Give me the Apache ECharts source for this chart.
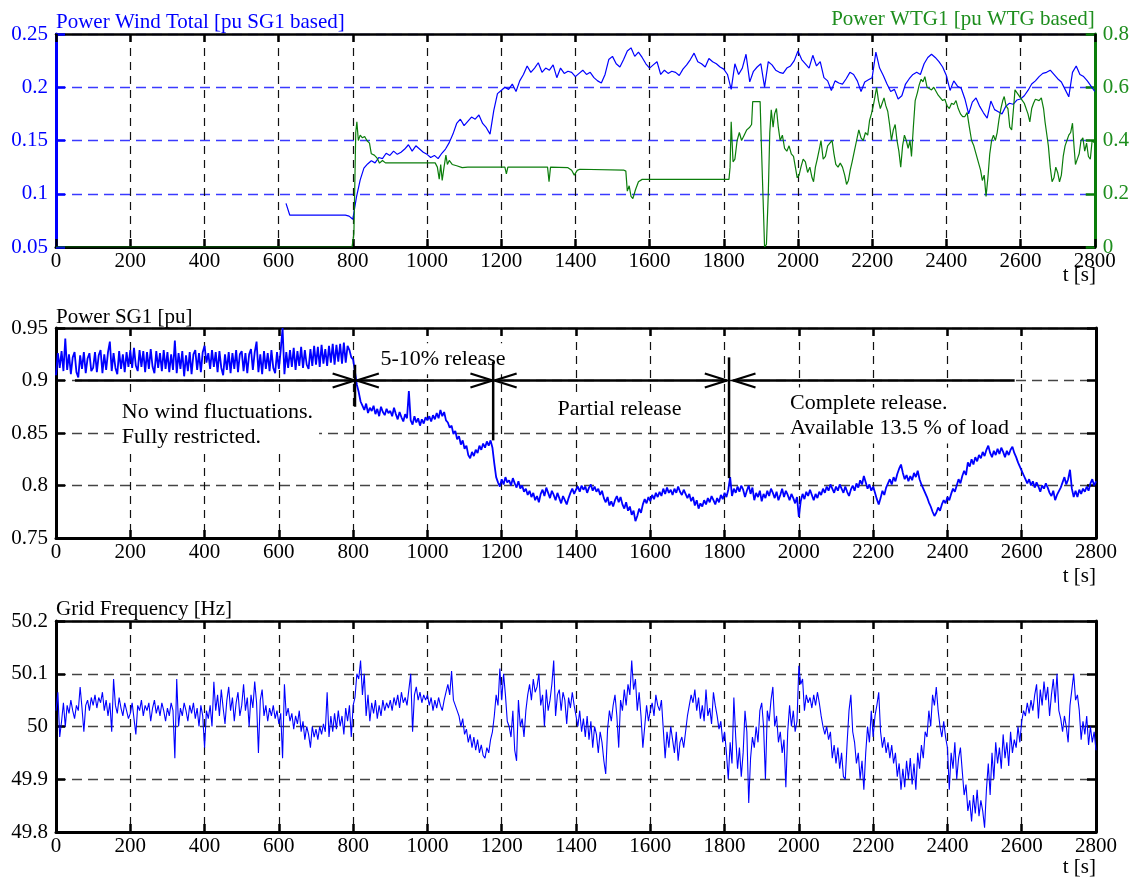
<!DOCTYPE html>
<html>
<head>
<meta charset="utf-8">
<title>Wind power release test</title>
<script src="https://cdn.jsdelivr.net/npm/echarts@6/dist/echarts.min.js"></script>
<style>
  html, body { margin: 0; padding: 0; background: #ffffff; }
  #chart { width: 1132px; height: 879px; }
</style>
</head>
<body>
<div id="chart"></div>
<script>
// ---------- data ----------
// Total wind power [pu SG1 based], sampled every 10 s from t = 620 s
const windTotalStart = 620;
const windTotalStep = 10;
const windTotal = [
  0.091, 0.080, 0.080, 0.080, 0.080, 0.080, 0.080, 0.080,
  0.080, 0.080, 0.080, 0.080, 0.080, 0.080, 0.080, 0.080, 0.080, 0.079,
  0.076, 0.097, 0.113, 0.124, 0.128, 0.131, 0.129, 0.134, 0.133, 0.138,
  0.136, 0.140, 0.137, 0.139, 0.142, 0.146, 0.140, 0.145, 0.142, 0.139,
  0.137, 0.134, 0.136, 0.133, 0.138, 0.142, 0.148, 0.156, 0.166, 0.170,
  0.164, 0.168, 0.172, 0.170, 0.174, 0.166, 0.162, 0.156, 0.178, 0.194,
  0.197, 0.200, 0.198, 0.203, 0.196, 0.206, 0.212, 0.220, 0.214, 0.218,
  0.223, 0.214, 0.218, 0.216, 0.221, 0.209, 0.218, 0.213, 0.215, 0.214,
  0.210, 0.213, 0.216, 0.212, 0.214, 0.209, 0.206, 0.204, 0.212, 0.226,
  0.229, 0.222, 0.219, 0.226, 0.234, 0.237, 0.229, 0.233, 0.228, 0.222,
  0.218, 0.221, 0.224, 0.212, 0.216, 0.213, 0.215, 0.214, 0.211, 0.217,
  0.221, 0.226, 0.232, 0.224, 0.222, 0.219, 0.227, 0.224, 0.222, 0.219,
  0.217, 0.212, 0.198, 0.222, 0.212, 0.218, 0.231, 0.205, 0.215, 0.219,
  0.222, 0.200, 0.224, 0.221, 0.216, 0.214, 0.213, 0.218, 0.220, 0.225,
  0.234, 0.226, 0.222, 0.218, 0.230, 0.220, 0.224, 0.209, 0.206, 0.197,
  0.206, 0.204, 0.203, 0.208, 0.214, 0.212, 0.206, 0.196, 0.205, 0.207,
  0.209, 0.233, 0.218, 0.211, 0.203, 0.196, 0.198, 0.189, 0.192, 0.203,
  0.208, 0.212, 0.214, 0.212, 0.222, 0.228, 0.231, 0.228, 0.224, 0.219,
  0.211, 0.197, 0.206, 0.201, 0.199, 0.189, 0.175, 0.186, 0.190, 0.182,
  0.176, 0.171, 0.187, 0.179, 0.177, 0.175, 0.182, 0.185, 0.184, 0.188,
  0.189, 0.192, 0.197, 0.203, 0.206, 0.210, 0.213, 0.214, 0.216, 0.212,
  0.208, 0.205, 0.198, 0.191, 0.214, 0.220, 0.212, 0.210, 0.206, 0.201,
  0.196
];

// Power of WTG1 [pu WTG based] as [t, value] pairs
const wtg1 = [
  [0,0],[798,0],[803,0.05],[808,0.43],[811,0.47],[815,0.40],[820,0.42],[826,0.41],[832,0.415],
  [838,0.40],[845,0.39],[850,0.35],[858,0.345],[865,0.335],[872,0.315],[880,0.325],[888,0.316],
  [1022,0.316],[1028,0.30],[1033,0.255],[1037,0.31],[1041,0.25],[1046,0.30],[1051,0.345],
  [1055,0.31],[1060,0.325],[1068,0.31],[1080,0.305],[1095,0.298],[1110,0.300],[1210,0.300],
  [1214,0.275],[1218,0.300],[1325,0.300],[1329,0.245],[1333,0.300],[1380,0.298],[1390,0.288],
  [1397,0.27],[1405,0.288],[1412,0.292],[1530,0.289],[1536,0.285],[1540,0.21],[1545,0.23],
  [1550,0.19],[1555,0.182],[1562,0.215],[1570,0.245],[1580,0.254],[1814,0.254],[1817,0.30],
  [1820,0.47],[1825,0.32],[1830,0.33],[1836,0.40],[1842,0.43],[1848,0.40],[1855,0.42],
  [1862,0.44],[1870,0.45],[1875,0.46],[1878,0.546],[1898,0.546],[1901,0.40],[1906,0.18],
  [1910,0.0],[1915,0.01],[1920,0.20],[1924,0.43],[1928,0.515],[1933,0.45],[1937,0.50],
  [1942,0.52],[1947,0.45],[1952,0.40],[1958,0.42],[1964,0.37],[1970,0.36],[1976,0.38],
  [1982,0.35],[1988,0.34],[1993,0.30],[1998,0.26],[2003,0.27],[2008,0.30],[2014,0.33],
  [2020,0.32],[2026,0.28],[2032,0.30],[2038,0.26],[2042,0.245],[2047,0.30],[2052,0.33],
  [2058,0.37],[2062,0.40],[2068,0.33],[2074,0.34],[2080,0.38],[2086,0.39],[2092,0.40],
  [2097,0.35],[2102,0.31],[2108,0.30],[2114,0.315],[2120,0.30],[2126,0.27],[2131,0.235],
  [2136,0.25],[2141,0.29],[2146,0.32],[2152,0.36],[2158,0.40],[2164,0.44],[2170,0.41],
  [2176,0.40],[2182,0.43],[2188,0.42],[2193,0.475],[2198,0.50],[2203,0.53],[2207,0.56],
  [2212,0.60],[2217,0.55],[2222,0.52],[2227,0.54],[2232,0.56],[2237,0.53],[2242,0.51],
  [2247,0.46],[2252,0.40],[2257,0.44],[2262,0.46],[2267,0.40],[2272,0.36],[2277,0.30],
  [2282,0.38],[2287,0.42],[2292,0.40],[2297,0.37],[2302,0.40],[2306,0.34],[2311,0.45],
  [2316,0.55],[2322,0.58],[2327,0.61],[2332,0.63],[2337,0.62],[2342,0.64],[2348,0.60],
  [2354,0.595],[2360,0.59],[2366,0.60],[2372,0.585],[2378,0.57],[2384,0.56],[2390,0.55],
  [2396,0.555],[2402,0.53],[2408,0.52],[2414,0.54],[2420,0.535],[2426,0.55],[2432,0.52],
  [2438,0.50],[2444,0.49],[2450,0.49],[2456,0.505],[2462,0.45],[2468,0.40],[2474,0.38],
  [2480,0.35],[2486,0.32],[2492,0.29],[2497,0.25],[2502,0.27],[2507,0.19],[2512,0.26],
  [2517,0.35],[2522,0.40],[2527,0.42],[2532,0.40],[2537,0.43],[2542,0.48],[2547,0.52],
  [2552,0.55],[2556,0.565],[2561,0.53],[2566,0.52],[2571,0.45],[2576,0.44],[2581,0.52],
  [2585,0.59],[2590,0.58],[2595,0.575],[2600,0.56],[2605,0.55],[2610,0.54],[2615,0.54],
  [2620,0.50],[2625,0.47],[2630,0.52],[2635,0.54],[2640,0.555],[2645,0.55],[2650,0.55],
  [2656,0.56],[2662,0.52],[2666,0.47],[2670,0.43],[2675,0.38],[2680,0.30],[2685,0.245],
  [2690,0.26],[2695,0.30],[2700,0.28],[2705,0.245],[2710,0.27],[2715,0.34],[2720,0.38],
  [2725,0.40],[2730,0.42],[2735,0.43],[2740,0.465],[2744,0.38],[2748,0.31],[2753,0.33],
  [2758,0.35],[2763,0.40],[2768,0.41],[2773,0.36],[2778,0.39],[2783,0.34],[2788,0.33],
  [2793,0.40],[2800,0.39]
];

// Power of SG1 [pu], sampled every 5 s from t = 0 (one row per 100 s)
const sg1Step = 5;
const sg1Power = [
  0.905,0.926,0.912,0.928,0.909,0.940,0.910,0.925,0.906,0.922,0.927,0.908,0.903,0.924,0.911,0.927,0.907,0.921,0.926,0.909,
  0.912,0.927,0.908,0.924,0.929,0.907,0.925,0.910,0.927,0.937,0.909,0.926,0.912,0.906,0.928,0.911,0.925,0.908,0.927,0.913,
  0.929,0.912,0.931,0.914,0.909,0.929,0.913,0.928,0.908,0.927,0.911,0.930,0.913,0.907,0.928,0.912,0.926,0.909,0.929,0.911,
  0.927,0.908,0.925,0.910,0.938,0.907,0.926,0.911,0.928,0.904,0.924,0.909,0.927,0.906,0.925,0.929,0.910,0.926,0.908,0.927,
  0.933,0.917,0.926,0.911,0.929,0.913,0.927,0.908,0.928,0.912,0.905,0.925,0.910,0.927,0.907,0.926,0.911,0.929,0.908,0.925,
  0.928,0.909,0.926,0.907,0.925,0.930,0.910,0.927,0.937,0.908,0.925,0.906,0.928,0.911,0.926,0.909,0.929,0.912,0.907,0.927,
  0.911,0.929,0.950,0.906,0.927,0.912,0.929,0.913,0.931,0.910,0.928,0.914,0.932,0.912,0.929,0.915,0.911,0.930,0.914,0.933,
  0.915,0.932,0.913,0.934,0.916,0.930,0.914,0.933,0.917,0.935,0.915,0.934,0.918,0.935,0.916,0.936,0.917,0.933,0.929,0.922,
  0.920,0.908,0.896,0.889,0.880,0.876,0.872,0.878,0.869,0.874,0.871,0.876,0.868,0.873,0.866,0.875,0.870,0.867,0.873,0.869,
  0.871,0.866,0.874,0.868,0.863,0.870,0.865,0.861,0.868,0.864,0.890,0.862,0.858,0.866,0.860,0.864,0.857,0.863,0.859,0.865,
  0.862,0.866,0.861,0.867,0.863,0.869,0.864,0.872,0.866,0.870,0.862,0.860,0.855,0.857,0.849,0.852,0.844,0.847,0.839,0.843,
  0.835,0.838,0.829,0.826,0.832,0.828,0.834,0.831,0.838,0.834,0.840,0.836,0.842,0.838,0.843,0.836,0.821,0.808,0.803,0.799,
  0.806,0.801,0.808,0.803,0.805,0.800,0.807,0.802,0.798,0.804,0.797,0.800,0.794,0.797,0.791,0.795,0.789,0.793,0.786,0.790,
  0.784,0.792,0.796,0.790,0.798,0.793,0.788,0.795,0.791,0.786,0.793,0.788,0.783,0.790,0.786,0.782,0.788,0.793,0.797,0.792,
  0.796,0.799,0.794,0.800,0.796,0.799,0.793,0.798,0.801,0.795,0.799,0.794,0.797,0.791,0.795,0.788,0.784,0.789,0.781,0.785,
  0.780,0.786,0.790,0.784,0.789,0.782,0.778,0.784,0.776,0.780,0.772,0.776,0.766,0.771,0.778,0.774,0.782,0.787,0.783,0.789,
  0.785,0.791,0.787,0.793,0.789,0.794,0.790,0.797,0.792,0.798,0.793,0.796,0.791,0.797,0.793,0.799,0.794,0.791,0.796,0.792,
  0.788,0.792,0.785,0.789,0.781,0.786,0.778,0.783,0.780,0.786,0.782,0.788,0.784,0.790,0.786,0.782,0.788,0.784,0.791,0.787,
  0.793,0.789,0.796,0.808,0.790,0.797,0.793,0.799,0.794,0.800,0.796,0.789,0.795,0.800,0.792,0.798,0.786,0.793,0.789,0.795,
  0.785,0.792,0.788,0.795,0.790,0.797,0.793,0.788,0.794,0.786,0.791,0.797,0.789,0.795,0.791,0.786,0.792,0.788,0.783,0.789,
  0.770,0.785,0.792,0.787,0.794,0.790,0.796,0.791,0.786,0.792,0.788,0.794,0.791,0.797,0.793,0.799,0.795,0.801,0.797,0.793,
  0.799,0.795,0.801,0.797,0.793,0.799,0.794,0.790,0.796,0.800,0.795,0.802,0.798,0.805,0.801,0.809,0.803,0.797,0.801,0.795,
  0.799,0.793,0.787,0.782,0.788,0.795,0.791,0.798,0.802,0.806,0.801,0.808,0.804,0.811,0.816,0.820,0.812,0.806,0.810,0.804,
  0.809,0.805,0.812,0.808,0.814,0.806,0.801,0.797,0.793,0.789,0.784,0.780,0.775,0.771,0.774,0.779,0.776,0.782,0.786,0.783,
  0.789,0.786,0.792,0.797,0.794,0.800,0.806,0.802,0.809,0.814,0.810,0.822,0.818,0.825,0.820,0.827,0.823,0.829,0.826,0.832,
  0.828,0.834,0.838,0.831,0.827,0.833,0.829,0.835,0.830,0.836,0.832,0.827,0.833,0.829,0.834,0.837,0.831,0.827,0.822,0.818,
  0.814,0.810,0.806,0.802,0.806,0.800,0.804,0.798,0.803,0.799,0.794,0.800,0.797,0.802,0.798,0.793,0.790,0.795,0.786,0.791,
  0.792,0.798,0.803,0.808,0.801,0.806,0.815,0.797,0.789,0.795,0.789,0.796,0.792,0.797,0.794,0.799,0.795,0.802,0.806,0.800,
  0.804
];

// Grid frequency [Hz], sampled every 5 s from t = 0 (one row per 100 s)
const freqStep = 5;
const gridFreq = [
  50.03,50.065,49.98,50.01,50.045,50.0,50.04,50.025,50.05,50.03,50.015,50.04,50.03,50.075,50.035,49.99,50.04,50.05,50.03,50.055,
  50.04,50.06,50.035,50.055,50.045,50.065,50.03,50.05,50.02,50.045,49.99,50.09,50.04,50.025,50.055,50.035,50.02,50.045,50.03,50.015,
  50.025,50.045,50.015,49.985,50.04,50.03,50.05,50.02,50.04,50.03,50.045,50.01,50.035,50.05,50.025,50.04,50.02,50.045,50.03,50.01,
  50.035,50.02,50.045,50.03,49.94,50.09,50.0,50.035,50.02,50.045,50.03,50.01,50.04,50.025,50.045,50.015,50.035,50.0,50.04,50.02,
  49.96,50.03,50.015,50.04,50.0,50.085,50.03,50.06,50.02,50.07,50.035,50.005,50.05,50.075,50.03,50.055,50.01,50.045,50.065,50.02,
  50.04,50.08,50.03,50.055,50.0,50.06,50.035,50.085,50.045,49.95,50.05,50.07,50.02,50.04,50.01,50.035,50.02,50.04,50.015,50.03,
  50.005,50.025,49.94,50.08,50.02,50.035,50.01,50.025,49.995,50.02,50.005,50.03,49.99,50.01,49.975,50.0,49.985,49.96,50.0,49.98,
  49.995,49.975,50.0,49.985,50.005,49.99,50.065,49.98,50.02,49.99,50.025,49.995,50.03,50.0,50.02,49.985,50.035,50.01,50.04,49.98,
  50.04,50.055,50.1,50.09,50.125,50.06,50.1,50.02,50.06,50.01,50.045,50.025,50.05,50.015,50.04,50.02,50.05,50.03,50.045,50.035,
  50.05,50.03,50.055,50.04,50.06,50.035,50.065,50.045,50.055,50.04,50.07,50.1,49.99,50.06,50.075,50.05,50.065,50.045,50.06,50.05,
  50.06,50.04,50.055,50.03,50.05,50.035,50.055,50.04,50.03,50.05,50.065,50.08,50.06,50.105,50.05,50.04,50.03,50.02,50.0,50.015,
  49.985,49.995,49.97,49.985,49.96,49.98,49.955,49.975,49.95,49.965,49.945,49.94,49.96,49.95,49.975,49.99,50.02,50.06,50.04,50.11,
  50.05,50.1,50.06,50.01,50.0,49.98,50.03,49.955,49.935,50.05,50.0,50.015,49.98,50.03,50.06,50.08,50.05,50.09,50.065,50.075,
  50.1,50.04,50.06,50.0,50.07,50.03,50.05,50.08,50.125,50.02,50.06,50.07,50.03,50.065,50.05,50.005,50.055,50.035,50.065,50.04,
  50.02,50.0,50.03,49.99,50.015,49.98,50.02,49.975,50.01,49.96,50.0,49.985,49.95,49.99,49.97,49.935,49.91,49.995,50.03,50.01,
  50.04,50.06,50.02,49.96,50.05,50.03,50.07,50.04,50.08,50.06,50.125,50.07,50.09,50.03,50.065,50.02,49.96,50.0,50.04,50.01,
  50.03,50.045,50.02,50.06,50.04,50.03,50.05,49.995,49.94,49.99,49.96,50.0,49.975,49.95,49.99,49.935,49.97,49.98,49.96,49.99,
  50.02,50.04,50.06,50.045,50.07,50.03,50.055,50.015,50.04,50.01,50.07,50.02,50.035,50.005,50.065,50.04,50.02,49.995,50.01,49.97,
  49.99,49.95,49.9,49.97,49.93,50.055,49.98,49.92,49.96,49.905,49.95,50.03,49.99,49.855,49.94,49.98,49.96,50.0,49.97,50.03,
  50.045,50.0,49.9,50.03,50.01,50.05,50.075,50.0,50.02,49.97,49.99,49.95,49.975,49.885,49.99,50.04,50.0,50.03,49.99,50.01,
  50.115,50.08,50.09,50.03,50.06,50.045,50.055,50.035,50.06,50.04,50.065,50.045,50.02,50.0,49.985,50.0,49.975,49.99,49.94,49.965,
  49.93,49.96,49.92,49.95,49.905,49.9,49.97,50.03,50.06,49.99,49.97,49.93,49.95,49.9,49.935,49.88,49.95,50.0,49.97,50.03,
  49.98,50.02,50.04,50.065,49.99,49.96,49.98,49.95,49.97,49.94,49.965,49.93,49.95,49.905,49.93,49.88,49.92,49.885,49.935,49.9,
  49.94,49.89,49.93,49.88,49.95,49.92,49.965,49.94,49.99,49.98,50.03,50.0,50.06,50.04,50.075,50.03,50.0,49.98,50.01,49.98,
  49.96,49.88,49.95,49.92,49.97,49.9,49.94,49.96,49.915,49.87,49.89,49.84,49.86,49.82,49.87,49.835,49.88,49.83,49.86,49.84,
  49.808,49.88,49.93,49.87,49.95,49.9,49.97,49.93,49.96,49.92,49.985,49.94,49.97,49.925,49.99,49.95,49.975,49.96,50.0,49.97,
  50.01,50.03,50.02,50.045,50.025,50.05,50.03,50.06,50.08,50.015,50.07,50.04,50.085,50.05,50.075,50.02,50.06,50.09,50.045,50.1,
  50.03,50.015,49.99,50.02,50.0,49.97,50.04,50.07,50.1,50.05,50.06,50.03,49.975,50.01,49.985,50.02,49.965,50.0,49.97,49.99,
  49.955
];

// Release phases drawn on the SG1 panel: [start t, end t, head at start, head at end]
const phaseLevel = 0.9;
const phaseSpans = [
  [51, 804, 0, 1],
  [810, 1175, 1, 1],
  [1181, 1806, 1, 1],
  [1824, 2581, 1, 0]
];
// Phase boundaries: [t, lower value, upper value]
const phaseMarkers = [
  [805, 0.875, 0.915],
  [1177, 0.843, 0.918],
  [1812, 0.807, 0.922]
];
// Phase notes: anchor [t, value] and alignment
const phaseNotes = [
  { text: 'No wind fluctuations.\nFully restricted.', t: 161, v: 0.858, align: 'left' },
  { text: '5-10% release', t: 1042, v: 0.9207, align: 'center' },
  { text: 'Partial release', t: 1517, v: 0.873, align: 'center' },
  { text: 'Complete release.\nAvailable 13.5 % of load', t: 1960, v: 0.8667, align: 'left' }
];

// ---------- styling ----------
const FONT = '"Liberation Serif", "Times New Roman", serif';
const BLUE = '#0000ff';
const GREEN_LINE = '#0b7d0b';
const GREEN_TEXT = '#1e8e1e';
const FS = 21;

const toPairs = (vals, start, step) => vals.map((v, i) => [start + i * step, v]);

const gridBoxes = [
  { left: 56, right: 36, top: 34, height: 213 },
  { left: 56, right: 36, top: 328, height: 210 },
  { left: 56, right: 36, top: 621, height: 211 }
];

function timeAxes(gridIndex) {
  const common = {
    type: 'value', gridIndex, min: 0, max: 2800, interval: 200,
    axisLine: { onZero: false, lineStyle: { color: '#000', width: 3 } },
    axisTick: { inside: true, length: 8, lineStyle: { color: '#000', width: 2.5 } }
  };
  return [
    Object.assign({}, common, {
      position: 'bottom',
      axisLabel: { color: '#000', fontFamily: FONT, fontSize: FS, margin: 4, formatter: v => String(v) },
      splitLine: { show: true, lineStyle: { color: '#111', width: 1.2, type: [8, 6] } }
    }),
    Object.assign({}, common, {
      position: 'top',
      axisLine: { onZero: false, lineStyle: { color: '#000', width: 2.5 } },
      axisLabel: { show: false },
      splitLine: { show: false }
    })
  ];
}

function valueAxis(gridIndex, min, max, interval, opts) {
  const color = opts.color || '#000';
  return {
    type: 'value', gridIndex, min, max, interval,
    position: opts.position || 'left',
    name: opts.name || '',
    nameLocation: 'end',
    nameGap: opts.nameGap == null ? 1 : opts.nameGap,
    nameTextStyle: {
      color: opts.nameColor || color, fontFamily: FONT, fontSize: FS,
      align: opts.position === 'right' ? 'right' : 'left',
      verticalAlign: 'bottom', padding: 0
    },
    axisLine: { show: true, onZero: false, lineStyle: { color: opts.lineColor || color, width: 3 } },
    axisTick: { show: true, inside: true, length: 9, lineStyle: { color: opts.lineColor || color, width: 2.5 } },
    axisLabel: {
      show: opts.labels !== false, color: opts.labelColor || color,
      fontFamily: FONT, fontSize: FS, margin: 8
    },
    splitLine: opts.split
      ? { show: true, lineStyle: { color: opts.split, width: 1.3, type: [10, 6] } }
      : { show: false }
  };
}

const xAxes = [].concat(timeAxes(0), timeAxes(1), timeAxes(2));
const yAxes = [
  valueAxis(0, 0.05, 0.25, 0.05, { color: BLUE, name: 'Power Wind Total [pu SG1 based]', split: '#3a3aff' }),
  valueAxis(0, 0, 0.8, 0.2, { position: 'right', color: GREEN_TEXT, lineColor: GREEN_LINE, name: 'Power WTG1 [pu WTG based]', nameGap: 4 }),
  valueAxis(1, 0.75, 0.95, 0.05, { name: 'Power SG1 [pu]', split: '#444', nameGap: 0 }),
  valueAxis(1, 0.75, 0.95, 0.05, { position: 'right', labels: false }),
  valueAxis(2, 49.8, 50.2, 0.1, { name: 'Grid Frequency [Hz]', split: '#444' }),
  valueAxis(2, 49.8, 50.2, 0.1, { position: 'right', labels: false })
];

const lineSeries = (data, xi, yi, color, width, z) => ({
  type: 'line', xAxisIndex: xi, yAxisIndex: yi, data,
  showSymbol: false, symbol: 'none', silent: true, z,
  lineStyle: { color, width }
});

const chart = echarts.init(document.getElementById('chart'), null, { renderer: 'canvas' });

chart.setOption({
  animation: false,
  backgroundColor: '#ffffff',
  grid: gridBoxes,
  xAxis: xAxes,
  yAxis: yAxes,
  graphic: [
    { type: 'text', right: 36, top: 265, style: { text: 't [s]', fill: '#000', font: FS + 'px ' + FONT } },
    { type: 'text', right: 36, top: 566, style: { text: 't [s]', fill: '#000', font: FS + 'px ' + FONT } },
    { type: 'text', right: 36, top: 857, style: { text: 't [s]', fill: '#000', font: FS + 'px ' + FONT } }
  ],
  series: [
    lineSeries(toPairs(windTotal, windTotalStart, windTotalStep), 0, 0, BLUE, 1.2, 2),
    lineSeries(wtg1, 0, 1, GREEN_LINE, 1.2, 3),
    lineSeries(toPairs(sg1Power, 0, sg1Step), 2, 2, BLUE, 1.8, 2),
    lineSeries(toPairs(gridFreq, 0, freqStep), 4, 4, BLUE, 1.1, 2),
    {
      // phase notes with a white box behind the text
      type: 'custom', xAxisIndex: 2, yAxisIndex: 2, silent: true, z: 4,
      data: phaseNotes.map(n => [n.t, n.v]),
      renderItem: (params, api) => {
        const note = phaseNotes[params.dataIndex];
        const p = api.coord([api.value(0), api.value(1)]);
        return {
          type: 'text', x: p[0], y: p[1],
          style: {
            text: note.text, fill: '#000', fontFamily: FONT, fontSize: 22,
            align: note.align, verticalAlign: 'middle', lineHeight: 25,
            backgroundColor: '#ffffff', padding: [3, 6, 3, 6]
          }
        };
      }
    },
    {
      // double-headed phase arrows along the 0.9 pu line
      type: 'custom', xAxisIndex: 2, yAxisIndex: 2, silent: true, z: 5,
      data: phaseSpans,
      renderItem: (params, api) => {
        const a = api.coord([api.value(0), phaseLevel]);
        const b = api.coord([api.value(1), phaseLevel]);
        const st = { stroke: '#000', lineWidth: 2.3, fill: 'none' };
        const kids = [{ type: 'line', shape: { x1: a[0], y1: a[1], x2: b[0], y2: b[1] }, style: st }];
        if (api.value(2)) {
          kids.push({ type: 'polyline', shape: { points: [[a[0] + 22, a[1] - 7], [a[0], a[1]], [a[0] + 22, a[1] + 7]] }, style: st });
        }
        if (api.value(3)) {
          kids.push({ type: 'polyline', shape: { points: [[b[0] - 22, b[1] - 7], [b[0], b[1]], [b[0] - 22, b[1] + 7]] }, style: st });
        }
        return { type: 'group', children: kids };
      }
    },
    {
      // vertical phase boundaries
      type: 'custom', xAxisIndex: 2, yAxisIndex: 2, silent: true, z: 5,
      data: phaseMarkers,
      renderItem: (params, api) => {
        const lo = api.coord([api.value(0), api.value(1)]);
        const hi = api.coord([api.value(0), api.value(2)]);
        return {
          type: 'line',
          shape: { x1: lo[0], y1: lo[1], x2: hi[0], y2: hi[1] },
          style: { stroke: '#000', lineWidth: 2.5 }
        };
      }
    }
  ]
});
</script>
</body>
</html>
